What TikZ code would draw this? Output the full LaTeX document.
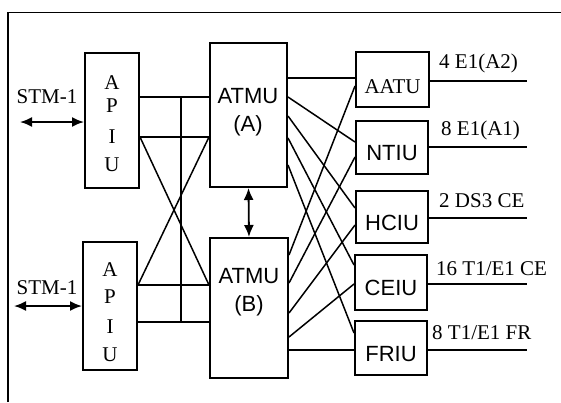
\documentclass[tikz,border=0pt]{standalone}
\usepackage{fontspec}
\setmainfont{Liberation Serif}
\newfontfamily\arialfont{Liberation Sans}
\usetikzlibrary{arrows.meta}
\begin{document}
\begin{tikzpicture}[x=1pt,y=-1pt,
  every node/.style={font=\fontsize{21}{24}\selectfont, inner sep=0pt},
  box/.style={draw, line width=2pt, rectangle},
  wire/.style={line width=1.5pt},
  dbl/.style={line width=1.8pt, {Latex[length=12pt,width=10pt]}-{Latex[length=12pt,width=10pt]}},
  sans/.style={font=\arialfont\fontsize{22}{28}\selectfont, align=center},
  lbl/.style={anchor=west}]
\useasboundingbox (0,0) rectangle (561,402);
% frame
\draw[line width=1.8pt] (8,402) -- (8,12.5) -- (561,12.5);

% APIU boxes
\node[box, minimum width=54pt, minimum height=135pt] (apiuA) at (112,120.5) {};
\node[box, minimum width=54pt, minimum height=128pt] (apiuB) at (110,306) {};
\node (pa1) at (112,83) {A};
\node (pa2) at (112,106) {P};
\node (pa3) at (112,137) {I};
\node (pa4) at (112,165) {U};
\node (pb1) at (110,270) {A};
\node (pb2) at (110,297) {P};
\node (pb3) at (110,327) {I};
\node (pb4) at (110,355) {U};

% ATMU boxes
\node[box, minimum width=77pt, minimum height=144pt] (atmuA) at (248.5,115) {};
\node[box, minimum width=78pt, minimum height=140pt] (atmuB) at (249,308) {};
\node[sans] (ta) at (248,112) {ATMU\\(A)};
\node[sans] (tb) at (249,292) {ATMU\\(B)};

% right boxes
\node[box, minimum width=73pt, minimum height=55pt] (aatu) at (392.5,79.5) {};
\node[box, minimum width=72pt, minimum height=53pt] (ntiu) at (392,147.5) {};
\node[box, minimum width=72pt, minimum height=52pt] (hciu) at (392,217) {};
\node[box, minimum width=72pt, minimum height=55pt] (ceiu) at (391,282.5) {};
\node[box, minimum width=72pt, minimum height=54pt] (friu) at (391,348) {};
\node (taatu) at (392.5,87) {AATU};
\node[sans] (tntiu) at (392,153) {NTIU};
\node[sans] (thciu) at (392,223) {HCIU};
\node[sans] (tceiu) at (391,288) {CEIU};
\node[sans] (tfriu) at (391,354) {FRIU};

% STM-1
\node (stmA) at (47,97) {STM-1};
\node (stmB) at (47,288) {STM-1};
\coordinate (sa) at (20,122);
\coordinate (sb) at (14,306);
\draw[dbl] (sa) -- (apiuA.west |- sa);
\draw[dbl] (sb) -- (apiuB.west |- sb);

% APIU <-> ATMU
\draw[wire] (apiuA.east |- 0,97) -- (atmuA.west |- 0,97);
\draw[wire] (apiuA.east |- 0,137) -- (atmuA.west |- 0,137);
\draw[wire] (apiuB.east |- 0,285) -- (atmuB.west |- 0,285);
\draw[wire] (apiuB.east |- 0,322) -- (atmuB.west |- 0,322);
\draw[wire] (181,97) -- (181,322);
\draw[wire] (apiuA.east |- 0,137) -- (atmuB.west |- 0,285);
\draw[wire] (atmuA.west |- 0,137) -- (apiuB.east |- 0,285);

% ATMU A <-> ATMU B
\draw[dbl] (atmuA.south) -- (atmuB.north);

% mesh
\draw[wire] (atmuA.east |- 0,78) -- (aatu.west |- 0,78);
\draw[wire] (atmuA.east |- 0,97) -- (ntiu.west |- 0,142);
\draw[wire] (atmuA.east |- 0,116) -- (hciu.west |- 0,208);
\draw[wire] (atmuA.east |- 0,138) -- (ceiu.west |- 0,265);
\draw[wire] (atmuA.east |- 0,165) -- (friu.west |- 0,333);
\draw[wire] (atmuB.east |- 0,255) -- (aatu.west |- 0,86);
\draw[wire] (atmuB.east |- 0,283) -- (ntiu.west |- 0,157);
\draw[wire] (atmuB.east |- 0,313) -- (hciu.west |- 0,225);
\draw[wire] (atmuB.east |- 0,337) -- (ceiu.west |- 0,284);
\draw[wire] (atmuB.east |- 0,350) -- (friu.west |- 0,350);

% outputs
\coordinate (oa) at (527,81);
\coordinate (ob) at (527,147);
\coordinate (oc) at (527,218);
\coordinate (od) at (527,284);
\coordinate (oe) at (527,350);
\draw[wire] (aatu.east |- oa) -- (oa);
\draw[wire] (ntiu.east |- ob) -- (ob);
\draw[wire] (hciu.east |- oc) -- (oc);
\draw[wire] (ceiu.east |- od) -- (od);
\draw[wire] (friu.east |- oe) -- (oe);
\node[lbl] (la) at (439,63) {4 E1(A2)};
\node[lbl] (lb) at (441,130) {8 E1(A1)};
\node[lbl] (lc) at (439,201) {2 DS3 CE};
\node[lbl] (ld) at (436,269) {16 T1/E1 CE};
\node[lbl] (le) at (432,333) {8 T1/E1 FR};
\end{tikzpicture}
\end{document}
